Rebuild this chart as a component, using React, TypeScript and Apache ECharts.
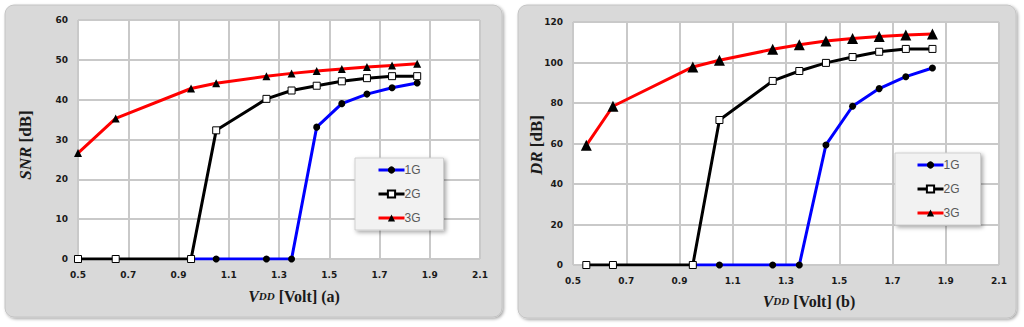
import React, { useEffect, useRef } from "react";
import * as echarts from "echarts";

// ---- data ----
const xMin = 0.5;
const xMax = 2.1;
const xStep = 0.2;

const snrX1G = [0.95, 1.05, 1.25, 1.35, 1.45, 1.55, 1.65, 1.75, 1.85];
const snr1G = [0, 0, 0, 0, 33.1, 39.0, 41.4, 43.0, 44.2];
const snrX2G = [0.5, 0.65, 0.95, 1.05, 1.25, 1.35, 1.45, 1.55, 1.65, 1.75, 1.85];
const snr2G = [0, 0, 0, 32.3, 40.2, 42.3, 43.5, 44.6, 45.4, 45.9, 45.9];
const snrX3G = [0.5, 0.65, 0.95, 1.05, 1.25, 1.35, 1.45, 1.55, 1.65, 1.75, 1.85];
const snr3G = [26.6, 35.3, 42.8, 44.1, 45.9, 46.6, 47.2, 47.7, 48.2, 48.6, 49.0];

const drX1G = [0.95, 1.05, 1.25, 1.35, 1.45, 1.55, 1.65, 1.75, 1.85];
const dr1G = [0, 0, 0, 0, 59.3, 78.4, 87.1, 93.0, 97.3];
const drX2G = [0.55, 0.65, 0.95, 1.05, 1.25, 1.35, 1.45, 1.55, 1.65, 1.75, 1.85];
const dr2G = [0, 0, 0, 71.6, 90.9, 95.8, 99.8, 102.7, 105.3, 106.7, 106.7];
const drX3G = [0.55, 0.65, 0.95, 1.05, 1.25, 1.35, 1.45, 1.55, 1.65, 1.75, 1.85];
const dr3G = [59.1, 78.4, 97.8, 101.1, 106.5, 108.8, 110.6, 111.9, 112.8, 113.6, 114.1];

const seriesNames = ["1G", "2G", "3G"];
const seriesColors = ["#0000ff", "#000000", "#ff0000"];

const snrMax = 60;
const snrStep = 10;
const drMax = 120;
const drStep = 20;

// pair x (shifted so the axis starts at a multiple of the interval) with y
const pair = (xs: number[], ys: number[]) => xs.map((x, i) => [+(x - xMin).toFixed(4), ys[i]]);

const TICK_FONT = "DejaVu Sans";
const SERIF = "Liberation Serif";

export default function App() {
  const ref = useRef<HTMLDivElement>(null);

  useEffect(() => {
    if (!ref.current) return;
    const chart = echarts.init(ref.current, null, { renderer: "svg" });

    const gridLine = { show: true, lineStyle: { color: "#c9c9c9", width: 2 } };
    const tickLabel = {
      color: "#1a1a1a",
      fontFamily: TICK_FONT,
      fontWeight: "bold" as const,
      fontSize: 9,
    };

    const xAxisBase = (gridIndex: number) => ({
      type: "value" as const,
      gridIndex,
      min: 0,
      max: +(xMax - xMin).toFixed(4),
      interval: xStep,
      axisLine: { show: false },
      axisTick: { show: false },
      splitLine: gridLine,
      axisLabel: {
        ...tickLabel,
        margin: 11,
        formatter: (v: number) => (v + xMin).toFixed(1),
      },
    });

    const yAxisBase = (gridIndex: number, max: number, step: number) => ({
      type: "value" as const,
      gridIndex,
      min: 0,
      max,
      interval: step,
      axisLine: { show: false },
      axisTick: { show: false },
      splitLine: gridLine,
      axisLabel: { ...tickLabel, margin: 10 },
    });

    const mk = (
      name: string,
      idx: number,
      data: number[][],
      symbol: string,
      symbolSize: number,
      fill: string
    ) => ({
      type: "line" as const,
      name,
      xAxisIndex: idx,
      yAxisIndex: idx,
      data,
      symbol,
      symbolSize,
      showAllSymbol: true,
      color: seriesColors[seriesNames.indexOf(name)],
      lineStyle: { width: 3, color: seriesColors[seriesNames.indexOf(name)] },
      itemStyle: { color: fill, borderColor: "#000", borderWidth: symbol === "rect" ? 1 : 0 },
      emphasis: { disabled: true },
    });

    const legendBase = {
      orient: "vertical" as const,
      data: seriesNames,
      itemWidth: 26,
      itemHeight: 9,
      itemGap: 12,
      backgroundColor: "#f2f2f2",
      borderColor: "#cfcfcf",
      borderWidth: 1,
      shadowBlur: 4,
      shadowColor: "rgba(0,0,0,0.35)",
      shadowOffsetX: 2,
      shadowOffsetY: 2,
      selectedMode: false,
      lineStyle: { width: 3 },
      textStyle: { color: "#595959", fontSize: 12, fontFamily: "Liberation Sans", padding: [0, 0, 0, -5] },
    };

    const richTitle = (big: number, small: number) => ({
      i: { fontFamily: SERIF, fontStyle: "italic", fontWeight: "bold", fontSize: big, fill: "#1a1a1a" },
      s: { fontFamily: SERIF, fontStyle: "italic", fontWeight: "bold", fontSize: small, fill: "#1a1a1a" },
      b: { fontFamily: SERIF, fontWeight: "bold", fontSize: big, fill: "#1a1a1a" },
    });

    const panel = (x: number, y: number, w: number, h: number) => ({
      type: "rect",
      z: -10,
      shape: { x, y, width: w, height: h, r: 9 },
      style: {
        fill: "#d9d9d9",
        stroke: "#c4c4c4",
        lineWidth: 1,
        shadowBlur: 3,
        shadowColor: "rgba(0,0,0,0.35)",
        shadowOffsetX: 1.5,
        shadowOffsetY: 1.5,
      },
    });

    const option = {
      animation: false,
      backgroundColor: "#ffffff",
      grid: [
        { left: 78, top: 20, width: 402, height: 239, show: true, backgroundColor: "#ffffff", borderWidth: 0 },
        { left: 573, top: 22, width: 426, height: 243, show: true, backgroundColor: "#ffffff", borderWidth: 0 },
      ],
      xAxis: [xAxisBase(0), xAxisBase(1)],
      yAxis: [yAxisBase(0, snrMax, snrStep), yAxisBase(1, drMax, drStep)],
      legend: [
        { ...legendBase, left: 355, top: 158, padding: [6, 23, 6, 22] },
        { ...legendBase, left: 895, top: 153, padding: [6, 21, 6, 21] },
      ],
      series: [
        mk("1G", 0, pair(snrX1G, snr1G), "circle", 7, "#000"),
        mk("2G", 0, pair(snrX2G, snr2G), "rect", 7, "#fff"),
        mk("3G", 0, pair(snrX3G, snr3G), "triangle", 8, "#000"),
        mk("1G", 1, pair(drX1G, dr1G), "circle", 7, "#000"),
        mk("2G", 1, pair(drX2G, dr2G), "rect", 7, "#fff"),
        mk("3G", 1, pair(drX3G, dr3G), "triangle", 11, "#000"),
      ],
      graphic: [
        panel(5, 5, 497, 312),
        panel(518, 5, 498, 313),
        {
          type: "text",
          x: 25,
          y: 145,
          rotation: Math.PI / 2,
          style: {
            text: "{i|SNR}{b| [dB]}",
            rich: richTitle(17, 12),
            align: "center",
            verticalAlign: "middle",
          },
        },
        {
          type: "text",
          x: 294,
          y: 296,
          style: {
            text: "{i|V}{s|DD}{b| [Volt] (a)}",
            rich: richTitle(16, 11),
            align: "center",
            verticalAlign: "middle",
          },
        },
        {
          type: "text",
          x: 536,
          y: 145,
          rotation: Math.PI / 2,
          style: {
            text: "{i|DR}{b| [dB]}",
            rich: richTitle(17, 12),
            align: "center",
            verticalAlign: "middle",
          },
        },
        {
          type: "text",
          x: 809,
          y: 301,
          style: {
            text: "{i|V}{s|DD}{b| [Volt] (b)}",
            rich: richTitle(16, 11),
            align: "center",
            verticalAlign: "middle",
          },
        },
      ],
    };

    chart.setOption(option as any);
    return () => chart.dispose();
  }, []);

  return (
    <div
      ref={ref}
      style={{ position: "fixed", left: 0, top: 0, width: 1024, height: 327, background: "#fff" }}
    />
  );
}
